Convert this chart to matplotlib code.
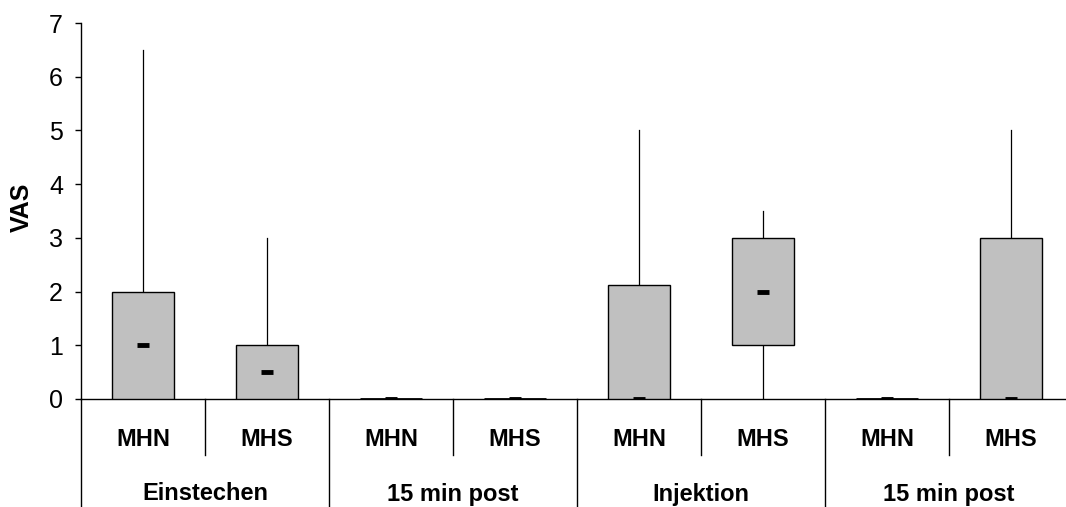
import matplotlib
matplotlib.use("Agg")
import matplotlib.pyplot as plt
import matplotlib.transforms as mtransforms

plt.rcParams['font.family'] = ['Liberation Sans', 'DejaVu Sans']

sub_labels = ["MHN", "MHS", "MHN", "MHS", "MHN", "MHS", "MHN", "MHS"]
group_labels = ["Einstechen", "15 min post", "Injektion", "15 min post"]
q1 = [0, 0, 0, 0, 0, 1, 0, 0]
q3 = [2, 1, 0, 0, 2.12, 3, 0, 3]
medians = [1, 0.5, 0, 0, 0, 2, 0, 0]
whisk_lo = [0, 0, 0, 0, 0, 0, 0, 0]
whisk_hi = [6.5, 3, 0, 0, 5, 3.5, 0, 5]
y_ticks = [0, 1, 2, 3, 4, 5, 6, 7]

W, H = 1066, 507
fig = plt.figure(figsize=(W / 100, H / 100), dpi=100)
ax_left, ax_right, ax_top, ax_bot = 81, 1073, 23, 399
ax = fig.add_axes([ax_left / W, (H - ax_bot) / H, (ax_right - ax_left) / W, (ax_bot - ax_top) / H])

n = len(sub_labels)
xs = [i + 0.5 for i in range(n)]
bw = 0.5

# whiskers
for x, lo, hi, a, b in zip(xs, whisk_lo, whisk_hi, q1, q3):
    if hi > b:
        ax.plot([x, x], [b, hi], color='black', lw=0.9, zorder=2)
    if lo < a:
        ax.plot([x, x], [lo, a], color='black', lw=0.9, zorder=2)

# boxes
for x, a, b in zip(xs, q1, q3):
    if b > a:
        ax.bar(x, b - a, bottom=a, width=bw, color='#c0c0c0', edgecolor='black', lw=1.0, zorder=3)
    else:
        ax.plot([x - bw / 2, x + bw / 2], [a, a], color='black', lw=2.0, zorder=3, solid_capstyle='butt')

# medians
for x, m in zip(xs, medians):
    ax.plot([x - 0.05, x + 0.05], [m, m], color='black', lw=3.5, zorder=4, solid_capstyle='butt')

ax.set_xlim(0, n)
ax.set_ylim(0, 7)
ax.set_yticks(y_ticks)
ax.set_yticklabels([str(t) for t in y_ticks], fontsize=18)
ax.tick_params(axis='y', direction='out', length=4, width=1, pad=9)
ax.set_xticks([])
ax.spines['top'].set_visible(False)
ax.spines['right'].set_visible(False)
ax.spines['left'].set_linewidth(1)
ax.spines['bottom'].set_linewidth(1)
ax.set_ylabel("VAS", fontsize=18, fontweight='bold', va='center')
ax.yaxis.set_label_coords((22 - ax_left) / (ax_right - ax_left), (ax_bot - 207) / (ax_bot - ax_top))

trans = mtransforms.blended_transform_factory(ax.transData, ax.transAxes)
minor_y = (ax_bot - 455) / (ax_bot - ax_top)
major_y = (ax_bot - 510) / (ax_bot - ax_top)
for i in range(n + 1):
    if i % 2 == 0:
        ax.plot([i, i], [0, major_y], transform=trans, color='black', lw=1, clip_on=False)
    else:
        ax.plot([i, i], [0, minor_y], transform=trans, color='black', lw=1, clip_on=False)

sub_y = (ax_bot - 439) / (ax_bot - ax_top)
grp_y = (ax_bot - 494) / (ax_bot - ax_top)
for x, lab in zip(xs, sub_labels):
    ax.text(x, sub_y, lab, transform=trans, ha='center', va='center', fontsize=17, fontweight='bold')
for g, lab in enumerate(group_labels):
    ax.text(2 * g + 1, grp_y, lab, transform=trans, ha='center', va='center', fontsize=17, fontweight='bold')

fig.savefig("out.png", dpi=100)
